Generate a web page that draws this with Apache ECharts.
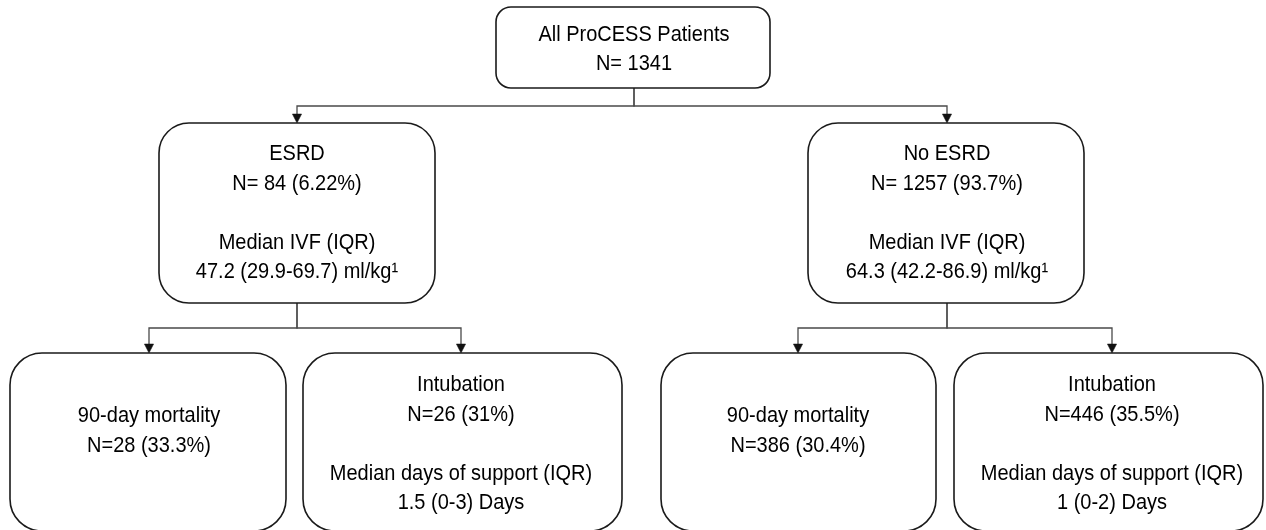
<!DOCTYPE html>
<html>
<head>
<meta charset="utf-8">
<script src="https://cdn.jsdelivr.net/npm/echarts@6/dist/echarts.min.js"></script>
<style>
html,body{margin:0;padding:0;background:#fff;}
#chart{width:1266px;height:530px;}
</style>
</head>
<body>
<div id="chart"></div>
<script>
// ---- content (data) ----
const nodeTitles = ['All ProCESS Patients', 'ESRD', 'No ESRD', '90-day mortality', 'Intubation', '90-day mortality', 'Intubation'];
const nodeCounts = ['N= 1341', 'N= 84 (6.22%)', 'N= 1257 (93.7%)', 'N=28 (33.3%)', 'N=26 (31%)', 'N=386 (30.4%)', 'N=446 (35.5%)'];
const nodeDetailHeads = ['', 'Median IVF (IQR)', 'Median IVF (IQR)', '', 'Median days of support (IQR)', '', 'Median days of support (IQR)'];
const nodeDetailValues = ['', '47.2 (29.9-69.7) ml/kg\u00B9', '64.3 (42.2-86.9) ml/kg\u00B9', '', '1.5 (0-3) Days', '', '1 (0-2) Days'];
const parentOf = [-1, 0, 0, 1, 1, 2, 2];

// ---- layout (axis units = page pixels) ----
const boxLeft   = [496, 159, 808, 10, 303, 661, 954];
const boxTop    = [7, 123, 123, 353, 353, 353, 353];
const boxRight  = [770, 435, 1084, 286, 622, 936, 1263];
const boxBottom = [88, 303, 303, 531, 531, 531, 531];
const boxRadius = [15, 30, 30, 32, 32, 32, 32];
const anchorX   = [634, 297, 947, 149, 461, 798, 1112];
const textCY    = [49.5, 213, 213, 431, 444, 431, 444];
const branchY   = [106, 328, 328];

const FONT = '20px "Liberation Sans", Arial, sans-serif';

function nodeText(i) {
  let t = nodeTitles[i] + '\n' + nodeCounts[i];
  if (nodeDetailHeads[i]) t += '\n\n' + nodeDetailHeads[i] + '\n' + nodeDetailValues[i];
  return t;
}

const chart = echarts.init(document.getElementById('chart'));
const nodeIdx = nodeTitles.map((_, i) => [i]);
const edgeIdx = parentOf.map((p, i) => [i]).filter(d => parentOf[d[0]] >= 0);

chart.setOption({
  animation: false,
  grid: {left: 0, right: 0, top: 0, bottom: 0},
  xAxis: {type: 'value', min: 0, max: 1266, show: false},
  yAxis: {type: 'value', min: 0, max: 530, inverse: true, show: false},
  series: [
    {
      type: 'custom',
      coordinateSystem: 'cartesian2d',
      data: edgeIdx,
      clip: false,
      silent: true,
      renderItem: function (params, api) {
        const i = api.value(0);
        const p = parentOf[i];
        const a = api.coord([anchorX[p], boxBottom[p]]);
        const b = api.coord([anchorX[p], branchY[p]]);
        const c = api.coord([anchorX[i], branchY[p]]);
        const tip = api.coord([anchorX[i], boxTop[i]]);
        const ah = 9, aw = 4.6;
        return {
          type: 'group',
          children: [
            {type: 'polyline', shape: {points: [a, b, c, [tip[0], tip[1] - ah]]},
             style: {stroke: '#4a4a4a', lineWidth: 1.3, fill: null}},
            {type: 'polygon', shape: {points: [[tip[0] - aw, tip[1] - ah], [tip[0] + aw, tip[1] - ah], tip]},
             style: {fill: '#111', stroke: '#111', lineWidth: 0.5}}
          ]
        };
      }
    },
    {
      type: 'custom',
      coordinateSystem: 'cartesian2d',
      data: nodeIdx,
      clip: false,
      silent: true,
      renderItem: function (params, api) {
        const i = api.value(0);
        const tl = api.coord([boxLeft[i], boxTop[i]]);
        const br = api.coord([boxRight[i], boxBottom[i]]);
        const cx = api.coord([anchorX[i], textCY[i]]);
        return {
          type: 'group',
          children: [
            {type: 'rect',
             shape: {x: tl[0], y: tl[1], width: br[0] - tl[0], height: br[1] - tl[1], r: boxRadius[i]},
             style: {fill: '#fff', stroke: '#1a1a1a', lineWidth: 1.6}},
            {type: 'text', x: cx[0], y: cx[1], scaleY: 1.1,
             style: {text: nodeText(i), x: 0, y: 0, align: 'center', verticalAlign: 'middle',
                     font: FONT, lineHeight: 26.8, fill: '#000'}}
          ]
        };
      }
    }
  ]
});
</script>
</body>
</html>
